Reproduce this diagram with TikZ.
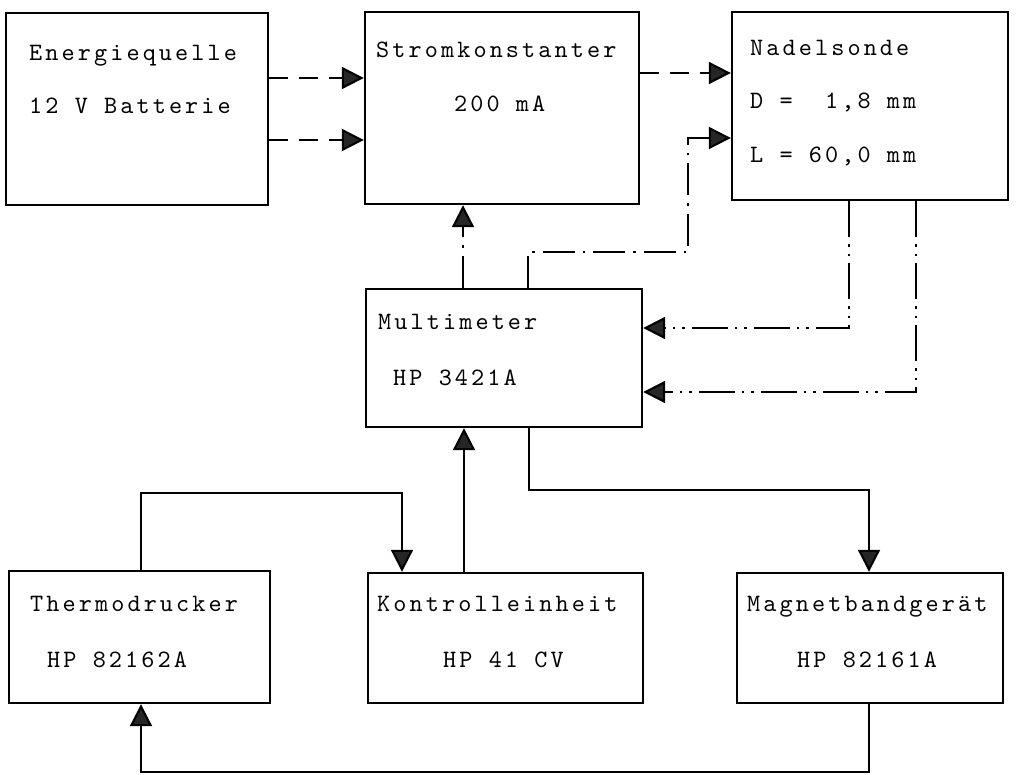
\documentclass[tikz,border=0pt]{standalone}
\usepackage{fontspec}
\newfontfamily\twfont{lmmono10-regular.otf}[LetterSpace=12.4]
\usetikzlibrary{arrows.meta}
\tikzset{
  box/.style={draw=black, line width=2.4pt, rectangle, inner sep=0pt},
  lbl/.style={anchor=base west, inner sep=0pt,
    font=\twfont\fontsize{25}{30}\selectfont},
  conn/.style={draw=black, line width=2.1pt},
  arr/.style={-{Triangle[length=22pt,width=22pt,fill=black!85]}},
  dashedline/.style={conn, dash pattern=on 19pt off 11pt},
  dashdot/.style={conn, dash pattern=on 32pt off 8pt on 2.5pt off 8pt},
  dashdotdot/.style={conn, dash pattern=on 36pt off 7pt on 2.5pt off 7pt on 2.5pt off 7pt},
  solidline/.style={conn}
}
\begin{document}
\begin{tikzpicture}[x=1pt,y=-1pt]
\useasboundingbox (0,0) rectangle (1016,775);
\fill[white] (0,0) rectangle (1016,775);

% boxes
\node[box, minimum width=262pt, minimum height=192pt] (E) at (137,109) {};
\node[box, minimum width=274pt, minimum height=192pt] (S) at (502,108) {};
\node[box, minimum width=276pt, minimum height=188pt] (N) at (870,106) {};
\node[box, minimum width=276pt, minimum height=138pt] (M) at (504,358) {};
\node[box, minimum width=261pt, minimum height=132pt] (T) at (139.5,637) {};
\node[box, minimum width=275pt, minimum height=130pt] (K) at (505.5,638) {};
\node[box, minimum width=266pt, minimum height=130pt] (G) at (870,638) {};

% texts
\node[lbl] (e1) at (29,61) {Energiequelle};
\node[lbl] (e2) at (29,114) {12 V Batterie};
\node[lbl] (s1) at (376,58) {Stromkonstanter};
\node[lbl] (s2) at (454,112) {200 mA};
\node[lbl] (n1) at (750,56) {Nadelsonde};
\node[lbl] (n2) at (750,109) {D =\ \ 1,8 mm};
\node[lbl] (n3) at (750,163) {L = 60,0 mm};
\node[lbl] (m1) at (378,329) {Multimeter};
\node[lbl] (m2) at (393,385) {HP 3421A};
\node[lbl] (t1) at (30,611) {Thermodrucker};
\node[lbl] (t2) at (47,667) {HP 82162A};
\node[lbl] (k1) at (377,611) {Kontrolleinheit};
\node[lbl] (k2) at (443,667) {HP 41 CV};
\node[lbl] (g1) at (747,611) {Magnetbandgerät};
\node[lbl] (g2) at (797,667) {HP 82161A};

% connectors
\draw[dashedline, arr] (E.east |- 0,78) -- (S.west |- 0,78);
\draw[dashedline, arr] (E.east |- 0,140) -- (S.west |- 0,140);
\draw[dashedline, arr] (S.east |- 0,73) -- (N.west |- 0,73);

\draw[dashdot, arr] (M.north -| 463,0) -- (S.south -| 463,0);
\draw[dashdot, arr] (M.north -| 528,0) -- (528,252) -- (688,252) -- (688,138) -- (N.west |- 0,138);

\draw[dashdotdot, arr] (N.south -| 849,0) -- (849,328) -- (M.east |- 0,328);
\draw[dashdotdot, arr] (N.south -| 916,0) -- (916,392) -- (M.east |- 0,392);

\draw[solidline, arr] (K.north -| 464,0) -- (M.south -| 464,0);
\draw[solidline, arr] (T.north -| 141,0) -- (141,493) -- (402,493) -- (K.north -| 402,0);
\draw[solidline, arr] (M.south -| 529,0) -- (529,490) -- (869,490) -- (G.north -| 869,0);
\draw[solidline, arr] (G.south -| 869,0) -- (869,772) -- (141,772) -- (T.south -| 141,0);
\end{tikzpicture}
\end{document}
